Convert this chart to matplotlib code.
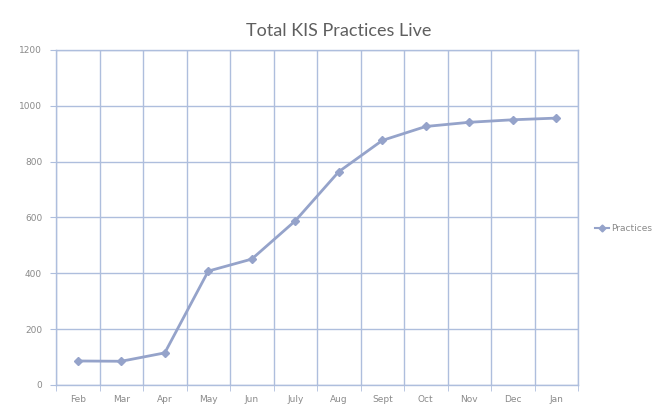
import numpy as np
import matplotlib.pyplot as plt
from matplotlib.lines import Line2D

months = ["Feb", "Mar", "Apr", "May", "Jun", "July", "Aug", "Sept", "Oct", "Nov", "Dec", "Jan"]
practices = [86, 85, 115, 408, 451, 588, 764, 876, 926, 941, 950, 956]
y_ticks = [0, 200, 400, 600, 800, 1000, 1200]

LINE_COLOR = "#95A3CA"
GRID_COLOR = "#AEBEDD"
TEXT_COLOR = "#8A8A8A"

fig = plt.figure(figsize=(6.67, 4.09), dpi=100)
ax = fig.add_axes([0.084, 0.0587, 0.7826, 0.8191])

x = np.arange(len(months))
ax.plot(x, practices, color=LINE_COLOR, lw=2, marker="D", ms=4,
        mfc=LINE_COLOR, mec=LINE_COLOR, zorder=3)

ax.set_xlim(-0.5, len(months) - 0.5)
ax.set_ylim(0, 1200)
ax.set_yticks(y_ticks)
ax.set_xticks(x)
ax.set_xticklabels(months)
ax.set_xticks(np.arange(len(months) + 1) - 0.5, minor=True)

ax.grid(True, which="minor", axis="x", color=GRID_COLOR, lw=1)
ax.grid(True, which="major", axis="y", color=GRID_COLOR, lw=1)
ax.set_axisbelow(True)

for s in ax.spines.values():
    s.set_color(GRID_COLOR)
    s.set_linewidth(1)

ax.tick_params(axis="x", which="major", length=0, pad=7, labelsize=6.5, labelcolor=TEXT_COLOR)
ax.tick_params(axis="x", which="minor", length=4, color=GRID_COLOR, direction="out")
ax.tick_params(axis="y", length=4, color=GRID_COLOR, pad=6, labelsize=6.5, labelcolor=TEXT_COLOR)

fig.text(0.508, 0.925, "Total KIS Practices Live", ha="center", va="center",
         fontsize=13, color="#5F5F5F", family="Lato")

handle = Line2D([], [], color=LINE_COLOR, lw=1.5, marker="D", ms=3.5)
fig.legend([handle], ["Practices"], loc="center left", bbox_to_anchor=(0.885, 0.442),
           frameon=False, fontsize=6.5, labelcolor=TEXT_COLOR,
           handlelength=1.6, handletextpad=0.2, borderpad=0)

fig.savefig("out.png", dpi=100, facecolor="white")
